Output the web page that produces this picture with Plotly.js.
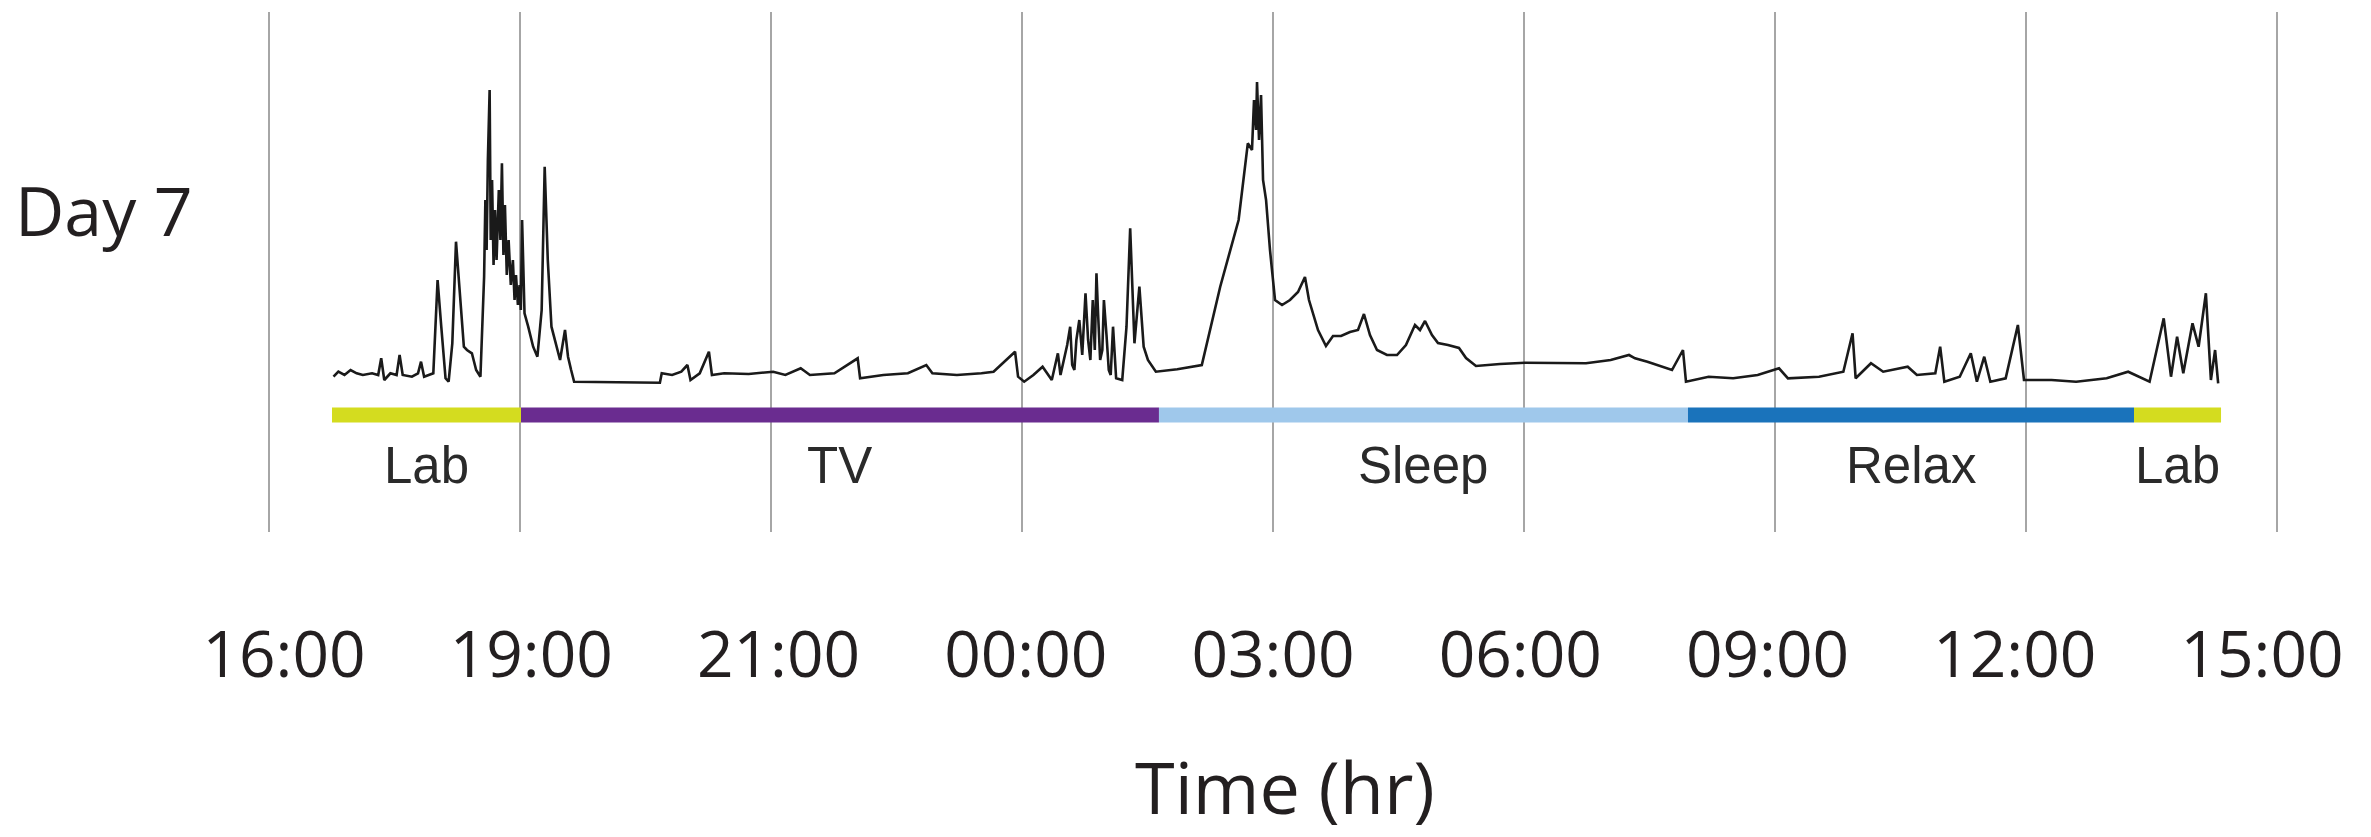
<!DOCTYPE html>
<html>
<head>
<meta charset="utf-8">
<script src="https://cdn.plot.ly/plotly-3.0.1.min.js"></script>
<style>html,body{margin:0;padding:0;background:#fff;}#chart{width:2371px;height:837px;}</style>
</head>
<body>
<div id="chart"></div>
<script>
// ---- data ----
// time in hours after the first gridline (16:00); each gridline = 3 h
const tickLabels = ['16:00','19:00','21:00','00:00','03:00','06:00','09:00','12:00','15:00'];
const signalTime = [
 0.771,0.829,0.902,0.975,1.048,1.122,1.232,1.305,1.341,1.378,1.451,1.525,1.561,1.598,1.708,1.781,1.817,1.854,1.964,
 2.015,2.059,2.110,2.147,2.191,2.235,2.278,2.329,2.366,2.425,2.476,2.527,2.571,
 2.586,2.601,2.616,2.637,2.650,2.666,2.684,2.702,2.720,2.747,2.766,2.784,2.802,2.820,2.842,2.864,2.890,2.915,2.935,
 2.952,2.975,2.995,3.010,3.025,3.054,3.098,3.157,3.208,3.259,3.295,3.332,3.376,3.428,3.479,3.538,3.574,3.611,
 3.647,4.672,4.694,4.818,4.928,5.001,5.038,5.148,5.258,5.294,5.441,5.733,6.026,6.172,6.355,6.465,6.758,7.036,7.065,
 7.343,7.636,7.856,7.929,8.222,8.515,8.660,8.917,8.953,9.026,9.136,9.246,9.356,
 9.429,9.460,9.502,9.540,9.576,9.600,9.626,9.650,9.685,9.720,9.759,9.790,9.817,9.846,9.870,9.890,9.910,9.934,9.960,
 9.979,10.010,10.037,10.060,10.088,10.125,10.198,10.249,10.293,10.344,10.403,10.454,10.505,10.600,10.856,
 11.149,11.369,11.589,11.699,11.749,11.773,11.797,11.809,11.833,11.857,11.881,11.917,11.964,12.024,12.108,12.203,
 12.299,12.382,12.430,12.478,12.538,12.633,12.717,12.813,12.920,13.016,13.087,13.159,13.243,13.362,13.482,13.589,
 13.697,13.757,13.817,13.900,13.972,14.091,14.223,14.307,14.426,14.713,15.012,15.741,16.036,16.255,16.327,16.475,
 16.659,16.769,16.900,16.936,17.207,17.500,17.793,18.048,18.155,18.526,18.817,18.927,18.964,19.147,19.293,19.586,
 19.696,19.916,19.974,20.024,20.208,20.340,20.413,20.501,20.574,20.757,20.903,20.976,21.306,21.599,21.964,22.221,
 22.477,22.646,22.733,22.806,22.880,22.990,23.063,23.150,23.210,23.260,23.297
];
const signalLevel = [
 2.33,2.83,2.5,3.0,2.67,2.5,2.67,2.5,4.17,2.0,2.67,2.5,4.5,2.5,2.33,2.67,3.83,2.33,2.67,
 12.0,7.33,2.17,1.83,5.67,15.83,10.67,5.33,5.0,4.67,3.0,2.33,12.33,
 20.0,15.0,24.0,31.0,16.0,22.0,13.5,19.0,14.0,21.0,16.0,23.67,14.5,19.5,12.5,16.0,11.5,14.0,10.0,
 12.5,9.5,11.5,9.0,18.0,8.67,7.33,5.33,4.33,9.0,23.33,14.0,7.33,5.67,4.0,7.0,4.33,3.0,
 1.83,1.73,2.67,2.5,2.83,3.5,2.0,2.67,4.83,2.5,2.67,2.6,2.83,2.5,3.17,2.5,2.67,4.17,2.17,
 2.5,2.67,3.5,2.67,2.5,2.67,2.83,4.83,2.33,1.83,2.5,3.33,2.0,
 4.67,2.5,4.0,5.5,7.33,3.5,3.0,6.0,8.0,4.5,10.67,6.0,4.0,10.0,5.0,12.67,8.5,4.0,5.0,
 10.0,6.5,3.0,2.5,7.33,2.17,2.0,7.33,17.17,5.67,11.33,5.33,4.0,2.83,3.07,
 3.5,11.33,18.0,25.67,25.0,30.0,27.0,31.8,26.0,30.5,22.0,20.0,15.0,10.0,9.5,10.0,
 10.8,12.3,10.0,8.6,7.0,5.4,6.4,6.4,6.8,7.0,8.6,6.5,5.0,4.5,4.5,5.5,
 7.5,7.0,7.9,6.5,5.7,5.5,5.2,4.2,3.4,3.6,3.73,3.67,4.0,4.5,4.17,3.83,
 3.33,3.0,5.0,1.83,2.33,2.17,2.5,3.17,2.17,2.33,2.83,6.67,2.17,3.67,2.83,3.33,
 2.5,2.67,5.33,1.83,2.33,4.67,1.83,4.33,1.83,2.17,7.5,2.0,2.0,1.83,2.17,2.83,
 1.83,8.17,2.33,6.33,2.67,7.67,5.33,10.67,2.0,5.0,1.67
];
const activityNames = ['Lab','TV','Sleep','Relax','Lab'];
const activityStart = [0.753, 3.012, 10.637, 16.960, 22.291];
const activityEnd   = [3.012, 10.637, 16.960, 22.291, 23.331];
const rowLabel = 'Day 7';
const axisTitle = 'Time (hr)';

// ---- styles ----
const activityColors = ['#d4dc1f','#6a2c90','#9fc8eb','#1a73bb','#d4dc1f'];
const W = 2371, H = 837, T = 12, B = 305;
const pxToPaperX = p => p / W;
const pxToPaperY = p => (H - B - p) / (H - T - B);
const barLevel = -1.5, labelLevel = -6.5;
const gridHours = tickLabels.map((_, i) => i * 3);

const traces = [];
traces.push({
  x: signalTime, y: signalLevel, type: 'scatter', mode: 'lines',
  line: {color: '#1a1a1a', width: 2.6}, hoverinfo: 'skip', showlegend: false
});
activityNames.forEach((n, i) => {
  traces.push({
    x: [activityStart[i], activityEnd[i]], y: [barLevel, barLevel],
    type: 'scatter', mode: 'lines', name: n,
    line: {color: activityColors[i], width: 15}, hoverinfo: 'skip', showlegend: false
  });
});
// carrier trace for the tick-label axis
traces.push({x: tickLabels.map((_, i) => i), y: tickLabels.map(() => barLevel), xaxis: 'x2',
  type: 'scatter', mode: 'markers', marker: {opacity: 0}, hoverinfo: 'skip', showlegend: false});

const annotations = activityNames.map((n, i) => ({
  x: (activityStart[i] + activityEnd[i]) / 2, y: labelLevel, xref: 'x', yref: 'y',
  text: n, showarrow: false, xanchor: 'center', yanchor: 'middle',
  font: {family: 'Liberation Sans, Arial, sans-serif', size: 51, color: '#2a2a2a'}
}));
annotations.push({
  x: pxToPaperX(13), y: pxToPaperY(209), xref: 'paper', yref: 'paper', text: rowLabel,
  showarrow: false, xanchor: 'left', yanchor: 'middle',
  font: {family: 'Open Sans, sans-serif', size: 68, color: '#231f20'}
});
annotations.push({
  x: pxToPaperX(1285), y: pxToPaperY(786), xref: 'paper', yref: 'paper', text: axisTitle,
  showarrow: false, xanchor: 'center', yanchor: 'middle',
  font: {family: 'Open Sans, sans-serif', size: 72, color: '#231f20'}
});

const layout = {
  width: W, height: H,
  margin: {l: 0, r: 0, t: T, b: B, pad: 0},
  paper_bgcolor: '#ffffff', plot_bgcolor: '#ffffff',
  xaxis: {
    range: [-269 * 3 / 251, (W - 269) * 3 / 251], tickvals: gridHours, showticklabels: false,
    showgrid: true, gridcolor: '#a6a6a6', gridwidth: 2, zeroline: false, showline: false, ticks: ''
  },
  xaxis2: {
    overlaying: 'x', anchor: 'y', side: 'bottom',
    range: [-284 / 247.25, (W - 284) / 247.25],
    tickvals: tickLabels.map((_, i) => i), ticktext: tickLabels,
    showgrid: false, zeroline: false, showline: false, ticks: '', ticklabelstandoff: 80,
    tickfont: {family: 'Open Sans, sans-serif', size: 64, color: '#231f20'}
  },
  yaxis: {range: [-13.2, 38.8], visible: false, showgrid: false, zeroline: false},
  annotations: annotations,
  showlegend: false
};
Plotly.newPlot('chart', traces, layout, {staticPlot: true, displayModeBar: false});
</script>
</body>
</html>
